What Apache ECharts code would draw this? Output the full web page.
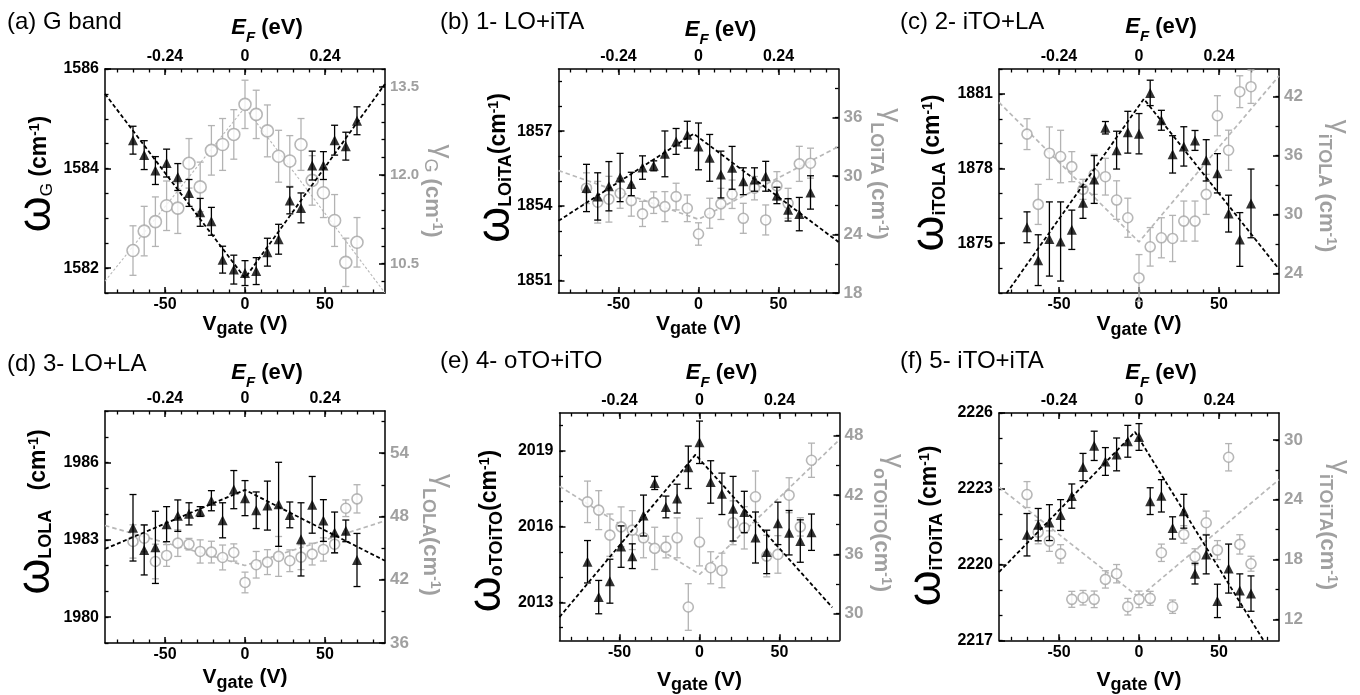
<!DOCTYPE html>
<html><head><meta charset="utf-8">
<script src="https://cdn.jsdelivr.net/npm/echarts@6/dist/echarts.min.js"></script>
<style>html,body{margin:0;padding:0;background:#fff}#c{width:1360px;height:695px}</style>
</head><body><div id="c"></div>
<script>
// ---------------- DATA ----------------
const vGate = [-70,-63,-56,-49,-42,-35,-28,-21,-14,-7,0,7,14,21,28,35,42,49,56,63,70];
const vMajorTicks = [-50, 0, 50];
const vMinorTicks = [-80,-70,-60,-50,-40,-30,-20,-10,0,10,20,30,40,50,60,70,80];
const efTickV = [-50, 0, 50];
const efTickLabels = ['-0.24', '0', '0.24'];

// (a) G band
const omegaG    = [1584.57,1584.27,1583.96,1584.11,1583.83,1583.51,1583.12,1582.94,1582.17,1581.97,1581.90,1581.94,1582.32,1582.58,1583.36,1583.21,1584.06,1584.06,1584.57,1584.45,1584.96];
const omegaGErr = [0.28,0.29,0.28,0.28,0.27,0.27,0.28,0.28,0.27,0.29,0.25,0.27,0.28,0.30,0.27,0.30,0.29,0.28,0.30,0.28,0.28];
const gammaG    = [10.72,11.05,11.21,11.48,11.44,12.20,11.80,12.42,12.52,12.69,13.20,13.03,12.75,12.32,12.24,12.52,11.91,11.70,11.23,10.52,10.86];
const gammaGErr = [0.42,0.42,0.42,0.42,0.43,0.42,0.42,0.42,0.44,0.42,0.41,0.41,0.44,0.44,0.43,0.44,0.42,0.42,0.44,0.41,0.42];
const fitOmegaG = [[-87.5,1585.5],[0,1581.8],[87.5,1585.7]];
const fitGammaG = [[-87.5,10.2],[0,13.15],[87.5,10.0]];
const omegaGTicks = [1582,1584,1586];
const gammaGTicks = [10.5,12.0,13.5];

// (b) 1- LO+iTA
const omegaLOiTA    = [1854.72,1854.38,1854.79,1855.14,1854.88,1855.54,1855.61,1856.09,1856.59,1856.86,1856.39,1855.93,1855.26,1855.53,1854.99,1855.06,1855.19,1854.42,1853.84,1853.67,1854.54];
const omegaLOiTAErr = [0.95,0.95,0.99,0.97,0.47,0.47,0.20,0.92,0.52,0.54,0.94,0.94,0.94,0.86,0.54,0.47,0.60,0.33,0.45,0.67,0.67];
const gammaLOiTA    = [28.76,27.32,27.63,28.24,27.49,26.12,27.28,26.87,27.90,26.70,24.06,26.19,27.15,28.14,25.67,28.76,25.50,29.00,27.21,31.26,31.33];
const gammaLOiTAErr = [1.58,2.14,2.35,1.54,1.60,1.29,1.11,1.54,1.37,1.37,1.15,1.54,1.60,1.46,1.54,1.20,1.54,1.46,1.54,1.80,1.54];
const fitOmegaLOiTA = [[-87.5,1853.4],[-3,1856.9],[87.5,1852.55]];
const fitGammaLOiTA = [[-87.5,30.57],[0,25.57],[87.5,33.04]];
const omegaLOiTATicks = [1851,1854,1857];
const gammaLOiTATicks = [18,24,30,36];

// (c) 2- iTO+LA
const omegaITOLA    = [1875.64,1874.32,1875.17,1875.07,1875.54,1876.63,1877.56,1879.64,1878.74,1879.46,1879.40,1881.04,1879.94,1878.57,1878.89,1879.13,1878.33,1877.81,1876.19,1875.15,1876.60];
const omegaITOLAErr = [0.62,1.02,1.49,1.59,0.79,0.63,0.96,0.25,0.76,0.84,0.81,0.51,0.40,0.75,0.79,0.40,0.83,0.79,0.74,1.08,1.38];
const gammaITOLA    = [38.17,31.02,36.23,35.89,34.86,32.55,34.08,33.84,31.46,29.66,23.53,26.70,27.62,27.55,29.32,29.32,32.04,40.04,36.53,42.49,43.00];
const gammaITOLAErr = [1.57,2.04,2.67,2.67,1.53,1.02,2.04,1.87,1.96,1.99,2.38,1.96,2.04,2.35,2.04,2.04,2.04,2.04,2.04,1.62,1.70];
const fitOmegaITOLA = [[-87.5,1872.56],[3,1880.8],[87.5,1873.96]];
const fitGammaITOLA = [[-87.5,41.4],[0,27.2],[87.5,44.1]];
const omegaITOLATicks = [1875,1878,1881];
const gammaITOLATicks = [24,30,36,42];

// (d) 3- LO+LA
const omegaLOLA    = [1983.47,1982.61,1982.71,1983.61,1983.94,1984.01,1984.10,1984.52,1983.76,1984.95,1984.62,1984.15,1984.33,1984.38,1983.97,1983.02,1984.36,1983.75,1983.29,1983.35,1982.22];
const omegaLOLAErr = [1.29,0.97,1.40,0.68,0.61,0.43,0.19,0.39,0.68,0.74,0.68,0.71,0.95,1.63,0.50,1.42,1.10,0.81,0.79,0.42,1.03];
const gammaLOLA    = [45.63,45.94,43.73,44.30,45.47,45.37,44.68,44.62,44.11,44.58,41.74,43.42,43.67,44.21,43.80,44.14,44.43,44.87,45.37,48.78,49.67];
const gammaLOLAErr = [1.58,1.26,1.64,1.03,1.26,0.55,1.10,1.03,1.18,0.82,0.98,1.26,1.18,1.89,1.03,1.18,1.03,1.10,0.87,0.79,1.34];
const fitOmegaLOLA = [[-87.5,1982.65],[0,1984.94],[87.5,1982.19]];
const fitGammaLOLA = [[-87.5,47.14],[0,43.35],[87.5,47.58]];
const omegaLOLATicks = [1980,1983,1986];
const gammaLOLATicks = [36,42,48,54];

// (e) 4- oTO+iTO
const omegaOTOITO    = [2014.61,2013.21,2013.84,2015.21,2014.83,2016.44,2017.73,2016.78,2017.11,2018.35,2019.34,2017.77,2017.30,2016.71,2016.58,2015.57,2015.00,2016.13,2015.76,2015.43,2015.78];
const omegaOTOITOErr = [0.84,0.66,0.87,0.82,0.49,0.81,0.26,0.43,0.57,0.84,0.84,0.84,0.82,1.28,0.82,1.01,0.86,0.84,0.88,0.84,0.72];
const gammaOTOITO    = [41.31,40.47,37.94,38.78,38.45,37.67,36.60,36.73,37.67,30.67,37.24,34.64,34.37,39.19,38.68,41.82,35.82,35.99,41.98,38.78,45.52];
const gammaOTOITOErr = [2.10,1.97,2.14,2.02,1.97,2.02,2.14,1.09,2.02,2.36,2.41,1.62,1.75,2.22,2.14,2.61,2.10,1.90,1.77,0.93,1.73];
const fitOmegaOTOITO = [[-87.5,2012.42],[-2.5,2018.85],[83,2012.8]];
const fitGammaOTOITO = [[-87.5,42.89],[0,33.97],[87.5,47.61]];
const omegaOTOITOTicks = [2013,2016,2019];
const gammaOTOITOTicks = [30,36,42,48];

// (f) 5- iTO+iTA
const omegaITOITA    = [2221.18,2221.58,2221.66,2221.96,2222.71,2223.86,2224.70,2224.08,2224.36,2224.88,2225.05,2222.51,2222.72,2221.45,2222.11,2219.64,2220.40,2218.56,2219.84,2218.97,2218.85];
const omegaITOITAErr = [0.84,0.64,0.71,0.61,0.48,0.54,0.58,0.55,0.65,0.63,0.53,0.53,0.64,0.44,0.67,0.41,0.77,0.66,0.97,0.66,0.70];
const gammaITOITA    = [24.52,20.75,19.85,18.57,14.01,14.17,14.01,16.01,16.58,13.27,14.01,14.11,18.68,13.27,20.52,18.28,21.69,18.95,28.26,19.52,17.58];
const gammaITOITAErr = [1.30,1.17,1.03,0.92,0.80,0.73,0.83,0.87,0.92,0.83,0.83,0.70,0.87,0.67,0.88,0.80,1.17,0.95,1.37,0.97,0.75];
const fitOmegaITOITA = [[-87.5,2219.7],[-2.5,2225.25],[87.5,2216.0]];
const fitGammaITOITA = [[-87.5,25.26],[0,14.2],[87.5,26.02]];
const omegaITOITATicks = [2217,2220,2223,2226];
const gammaITOITATicks = [12,18,24,30];

// ---------------- STYLE / LAYOUT ----------------
const FONT = "'Liberation Sans', Arial, Helvetica, sans-serif";
const NARROW = "'Liberation Sans Narrow', 'Arial Narrow', 'Liberation Sans', Arial, sans-serif";
const GRAY_T = '#a0a0a0';
const GRAY_C = '#a5a5a5';
const GRAY_BAR = '#b3b3b3';
const GRAY_LINE = '#b8b8b8';

const panels = [
  {title:'(a) G band', tx:7, ty:10, grid:{left:105, top:69, width:280, height:224},
   omega:omegaG, omegaErr:omegaGErr, gamma:gammaG, gammaErr:gammaGErr, fitO:fitOmegaG, fitG:fitGammaG,
   yL:[1581.5,1586], yLMajor:omegaGTicks, yLMinor:[1581.5,0.5],
   yR:[10,13.8], yRMajor:gammaGTicks, yRMinor:[10.2,0.3], yRDec:1,
   sub:'G', subBold:false, sep:' ', rsep:' ', lc:[41,174], rc:[435,191], bGap:17, tGap:24, narrowR:true, thinGray:true, circ:12, raise:8},
  {title:'(b) 1- LO+iTA', tx:440, ty:10, grid:{left:558.5, top:69, width:280, height:224},
   omega:omegaLOiTA, omegaErr:omegaLOiTAErr, gamma:gammaLOiTA, gammaErr:gammaLOiTAErr, fitO:fitOmegaLOiTA, fitG:fitGammaLOiTA,
   yL:[1850.5,1859.5], yLMajor:omegaLOiTATicks, yLMinor:[1851,1],
   yR:[18,41], yRMajor:gammaLOiTATicks, yRMinor:[18,3], yRDec:0,
   sub:'LOiTA', subBold:true, sep:'', rsep:' ', lc:[500,168], rc:[881,174], bGap:19, tGap:22, circ:10, raise:11},
  {title:'(c) 2- iTO+LA', tx:900, ty:10, grid:{left:999, top:69, width:280, height:224},
   omega:omegaITOLA, omegaErr:omegaITOLAErr, gamma:gammaITOLA, gammaErr:gammaITOLAErr, fitO:fitOmegaITOLA, fitG:fitGammaITOLA,
   yL:[1873,1882], yLMajor:omegaITOLATicks, yLMinor:[1873,1],
   yR:[22,44.8], yRMajor:gammaITOLATicks, yRMinor:[24,3], yRDec:0,
   sub:'iTOLA', subBold:true, sep:' ', rsep:' ', lc:[934,173], rc:[1329,186], bGap:21, tGap:25, circ:10, raise:11},
  {title:'(d) 3- LO+LA', tx:7, ty:352, grid:{left:105, top:411, width:280, height:232},
   omega:omegaLOLA, omegaErr:omegaLOLAErr, gamma:gammaLOLA, gammaErr:gammaLOLAErr, fitO:fitOmegaLOLA, fitG:fitGammaLOLA,
   yL:[1979,1988], yLMajor:omegaLOLATicks, yLMinor:[1979,1],
   yR:[36,58], yRMajor:gammaLOLATicks, yRMinor:[36,3], yRDec:0,
   sub:'LOLA', subBold:true, sep:'   ', rsep:'', lc:[40,512], rc:[433,535], bGap:24, tGap:21, circ:10, raise:11},
  {title:'(e) 4- oTO+iTO', tx:440, ty:349, grid:{left:559.5, top:413, width:280, height:228},
   omega:omegaOTOITO, omegaErr:omegaOTOITOErr, gamma:gammaOTOITO, gammaErr:gammaOTOITOErr, fitO:fitOmegaOTOITO, fitG:fitGammaOTOITO,
   yL:[2011.5,2020.5], yLMajor:omegaOTOITOTicks, yLMinor:[2012,1],
   yR:[27.3,50.3], yRMajor:gammaOTOITOTicks, yRMinor:[30,3], yRDec:0,
   sub:'oTOiTO', subBold:true, sep:'', rsep:'', lc:[491,531], rc:[884,523], bGap:29, tGap:23, circ:10, raise:11},
  {title:'(f) 5- iTO+iTA', tx:900, ty:349, grid:{left:999, top:413, width:280, height:228},
   omega:omegaITOITA, omegaErr:omegaITOITAErr, gamma:gammaITOITA, gammaErr:gammaITOITAErr, fitO:fitOmegaITOITA, fitG:fitGammaITOITA,
   yL:[2217,2226], yLMajor:omegaITOITATicks, yLMinor:[2217,1],
   yR:[9.9,32.7], yRMajor:gammaITOITATicks, yRMinor:[12,3], yRDec:0,
   sub:'iTOiTA', subBold:true, sep:' ', rsep:'', lc:[931,526], rc:[1330,525], bGap:29, tGap:23, circ:10, raise:11}
];

function stepTicks(a, b, s) {
  const r = [];
  for (let k = 0; a + k * s <= b + 1e-9; k++) r.push(+(a + k * s).toFixed(4));
  return r;
}
// rich-text token whose glyph baseline sits "base" px below the line top
function tok(size, base, extra) {
  return Object.assign({fontSize:size, fontFamily:FONT, verticalAlign:'top',
    padding:[Math.max(0, base - 0.85 * size), 0, 0, 0]}, extra || {});
}
const vRich = {
  v: tok(21, 18, {fontWeight:'bold', color:'#000'}),
  g: tok(18, 22, {fontWeight:'bold', color:'#000'}),
  t: tok(21, 18, {fontWeight:'bold', color:'#000'})
};
const eRich = {
  e: tok(22, 20, {fontWeight:'bold', fontStyle:'italic', color:'#000'}),
  f: tok(15, 27, {fontWeight:'bold', fontStyle:'italic', color:'#000'}),
  t: tok(22, 20, {fontWeight:'bold', color:'#000'})
};
function leftRich(p) {
  return {
    w: tok(46, 40, {fill:'#000'}),
    s: p.subBold ? tok(18, 40, {fontWeight:'bold', fill:'#000'}) : tok(17, 40, {fill:'#000'}),
    t: tok(23, 35, {fontWeight:'bold', fill:'#000'}),
    p: tok(14, 27, {fontWeight:'bold', fill:'#000'})
  };
}
function rightRich(p) {
  return {
    g: tok(28, 40 - p.raise, {fill:GRAY_T}),
    s: p.subBold ? tok(18, 41, {fontWeight:'bold', fill:GRAY_T}) : tok(18, 41, {fill:GRAY_T}),
    t: tok(22, 40, {fontWeight:'bold', fill:GRAY_T}),
    p: tok(14, 32, {fontWeight:'bold', fill:GRAY_T})
  };
}
function errSeries(xi, yi, data, color, z) {
  return {
    type:'custom', xAxisIndex:xi, yAxisIndex:yi, data:data, z:z, silent:true,
    encode:{x:0, y:1},
    renderItem: function (params, api) {
      const x = api.value(0), y = api.value(1), e = api.value(2);
      const lo = api.coord([x, y - e]), hi = api.coord([x, y + e]);
      const w = 3.5, st = {stroke:color, lineWidth:1.3};
      return {type:'group', children:[
        {type:'line', shape:{x1:lo[0], y1:lo[1], x2:hi[0], y2:hi[1]}, style:st},
        {type:'line', shape:{x1:lo[0]-w, y1:lo[1], x2:lo[0]+w, y2:lo[1]}, style:st},
        {type:'line', shape:{x1:hi[0]-w, y1:hi[1], x2:hi[0]+w, y2:hi[1]}, style:st}
      ]};
    }
  };
}
const plain = function (v) { return String(v); };

const option = {animation:false, backgroundColor:'#fff', textStyle:{fontFamily:FONT},
  grid:[], xAxis:[], yAxis:[], series:[], graphic:[]};

panels.forEach(function (p, i) {
  option.grid.push(Object.assign({containLabel:false}, p.grid));
  const base = i * 4;
  const axLine = {show:true, onZero:false, lineStyle:{color:'#000', width:1.5}};
  const noLine = {show:false, onZero:false};
  const major = {show:true, inside:true, length:6, lineStyle:{color:'#000', width:1.5}};
  const minor = {show:true, inside:true, length:3.5, lineStyle:{color:'#000', width:1.3}};
  const lbl = {fontFamily:FONT, fontWeight:'bold', fontSize:16, color:'#000'};
  const X = {min:-87.5, max:87.5};
  option.xAxis.push(
    Object.assign({gridIndex:i, type:'value', position:'bottom', axisLine:axLine, splitLine:{show:false},
      axisTick:Object.assign({customValues:vMajorTicks}, major),
      axisLabel:Object.assign({margin:4, customValues:vMajorTicks, formatter:plain}, lbl),
      name:'{v|V}{g|gate}{t| (V)}', nameLocation:'middle', nameGap:p.bGap, nameTextStyle:{rich:vRich}}, X),
    Object.assign({gridIndex:i, type:'value', position:'bottom', axisLine:noLine, splitLine:{show:false},
      axisTick:Object.assign({customValues:vMinorTicks}, minor), axisLabel:{show:false}}, X),
    Object.assign({gridIndex:i, type:'value', position:'top', axisLine:axLine, splitLine:{show:false},
      axisTick:Object.assign({customValues:efTickV}, major),
      axisLabel:Object.assign({margin:4, customValues:efTickV,
        formatter:function (v) { const k = efTickV.indexOf(v); return k >= 0 ? efTickLabels[k] : ''; }}, lbl),
      name:'{e|E}{f|F}{t| (eV)}', nameLocation:'middle', nameGap:p.tGap,
      nameTextStyle:{rich:eRich, padding:[0,0,0,44]}}, X),
    Object.assign({gridIndex:i, type:'value', position:'top', axisLine:noLine, splitLine:{show:false},
      axisTick:Object.assign({customValues:vMinorTicks}, minor), axisLabel:{show:false}}, X)
  );
  const YL = {min:p.yL[0], max:p.yL[1]}, YR = {min:p.yR[0], max:p.yR[1]};
  option.yAxis.push(
    Object.assign({gridIndex:i, type:'value', position:'left', axisLine:axLine, splitLine:{show:false},
      axisTick:Object.assign({customValues:p.yLMajor}, major),
      axisLabel:Object.assign({margin:6, customValues:p.yLMajor, formatter:plain}, lbl)}, YL),
    Object.assign({gridIndex:i, type:'value', position:'left', axisLine:noLine, splitLine:{show:false},
      axisTick:Object.assign({customValues:stepTicks(p.yLMinor[0], p.yL[1], p.yLMinor[1])}, minor),
      axisLabel:{show:false}}, YL),
    Object.assign({gridIndex:i, type:'value', position:'right', axisLine:axLine, splitLine:{show:false},
      axisTick:Object.assign({customValues:p.yRMajor}, major),
      axisLabel:{margin:5, customValues:p.yRMajor, color:GRAY_T, fontWeight:'bold',
        fontFamily:p.narrowR ? NARROW : FONT, fontSize:p.narrowR ? 15 : 17,
        formatter:function (v) { return v.toFixed(p.yRDec); }}}, YR),
    Object.assign({gridIndex:i, type:'value', position:'right', axisLine:noLine, splitLine:{show:false},
      axisTick:Object.assign({customValues:stepTicks(p.yRMinor[0], p.yR[1], p.yRMinor[1])}, minor),
      axisLabel:{show:false}}, YR)
  );
  const tri = vGate.map(function (v, k) { return [v, p.omega[k]]; });
  const cir = vGate.map(function (v, k) { return [v, p.gamma[k]]; });
  const triE = vGate.map(function (v, k) { return [v, p.omega[k], p.omegaErr[k]]; });
  const cirE = vGate.map(function (v, k) { return [v, p.gamma[k], p.gammaErr[k]]; });
  option.series.push(
    {type:'line', xAxisIndex:base, yAxisIndex:base + 2, data:p.fitG, symbol:'none', silent:true, z:1,
      lineStyle:p.thinGray ? {color:GRAY_LINE, width:1.1, type:[2.5,2]} : {color:GRAY_LINE, width:1.7, type:[4.5,3]}},
    errSeries(base, base + 2, cirE, GRAY_BAR, 2),
    {type:'scatter', xAxisIndex:base, yAxisIndex:base + 2, data:cir, symbol:'circle', symbolSize:p.circ, silent:true, z:3,
      itemStyle:{color:'#fff', borderColor:GRAY_C, borderWidth:1.6}},
    {type:'line', xAxisIndex:base, yAxisIndex:base, data:p.fitO, symbol:'none', silent:true, z:4,
      lineStyle:{color:'#000', width:1.8, type:[4,2.5]}},
    errSeries(base, base, triE, '#000', 5),
    {type:'scatter', xAxisIndex:base, yAxisIndex:base, data:tri, symbol:'triangle', symbolSize:10, silent:true, z:6,
      itemStyle:{color:'#000'}}
  );
  option.graphic.push({type:'text', left:p.tx, top:p.ty,
    style:{text:p.title, fontFamily:FONT, fontSize:24, fill:'#000'}});
  // rotated axis titles (glyph centre given; box centre offset toward the text's top side)
  option.graphic.push({type:'text', x:p.lc[0] - 4.4, y:p.lc[1], rotation:Math.PI / 2,
    style:{text:'{w|ω}{s|' + p.sub + '}{t|' + p.sep + '(cm}{p|-1}{t|)}', rich:leftRich(p),
      fontFamily:FONT, align:'center', verticalAlign:'middle'}});
  option.graphic.push({type:'text', x:p.rc[0] + 7.5, y:p.rc[1], rotation:-Math.PI / 2,
    style:{text:'{g|γ}{s|' + p.sub + '}{t|' + p.rsep + '(cm}{p|-1}{t|)}', rich:rightRich(p),
      fontFamily:FONT, align:'center', verticalAlign:'middle'}});
});

const chart = echarts.init(document.getElementById('c'), null, {renderer:'canvas'});
chart.setOption(option);
</script>
</body></html>
